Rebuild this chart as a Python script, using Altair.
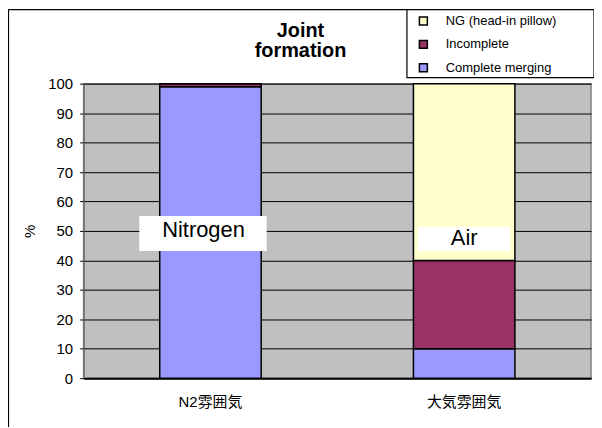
import altair as alt
import pandas as pd

categories = ["N2雰囲気", "大気雰囲気"]
series = ["NG (head-in pillow)", "Incomplete", "Complete merging"]
complete = [99, 10]
incomplete = [1, 30]
ng = [0, 60]
colors = ["#FFFFCC", "#993366", "#9999FF"]
y_ticks = list(range(0, 101, 10))
title_lines = ["Joint", "formation"]

annot_labels = ["Nitrogen", "Air"]
annot_low = [43.2, 43.2]
annot_high = [55.1, 51.4]
annot_text_y = [48.0, 45.3]

FONT = "Liberation Sans, Arial, Noto Sans CJK JP"

rows = []
for i, c in enumerate(categories):
    for s, vals, o in [(series[2], complete, 0), (series[1], incomplete, 1), (series[0], ng, 2)]:
        rows.append({"cat": c, "series": s, "value": vals[i], "order": o})
df = pd.DataFrame(rows)

ann = pd.DataFrame({"cat": categories, "label": annot_labels, "lo": annot_low,
                    "hi": annot_high, "ty": annot_text_y})

xaxis = alt.Axis(labelAngle=0, ticks=False, labelPadding=16, labelFontSize=15,
                 labelFont=FONT, labelColor="black", domainColor="black",
                 domainWidth=2, grid=False)
xscale = alt.Scale(paddingInner=0.6, paddingOuter=0.3)
yaxis = alt.Axis(values=y_ticks, tickSize=4, tickColor="black", labelPadding=7,
                 labelFontSize=15, labelFont=FONT, labelColor="black", labelOverlap=False,
                 titleFont=FONT, titleFontSize=15, titleFontWeight="normal",
                 titleColor="black", titlePadding=10, domainColor="#606060",
                 gridColor="black", gridWidth=1)
yscale = alt.Scale(domain=[0, 100], nice=False)


def X():
    return alt.X("cat:N", sort=categories, title=None, scale=xscale, axis=xaxis)


def Y(field):
    return alt.Y(field, title="%", scale=yscale, axis=yaxis)


bars = alt.Chart(df).mark_bar(stroke="black", strokeWidth=1.5).encode(
    x=X(),
    y=alt.Y("value:Q", stack="zero", title="%", scale=yscale, axis=yaxis),
    color=alt.Color("series:N", scale=alt.Scale(domain=series, range=colors),
                    legend=alt.Legend(title=None, orient="none", legendX=335, legendY=-69.5,
                                      symbolType="square", symbolSize=64,
                                      symbolStrokeColor="black", symbolStrokeWidth=1.5,
                                      labelFontSize=13, labelFont=FONT, labelColor="black",
                                      labelOffset=16, rowPadding=8.5, padding=0)),
    order=alt.Order("order:Q", sort="ascending"),
)

ann_n = ann[ann.label == "Nitrogen"]
ann_a = ann[ann.label == "Air"]

boxes_n = alt.Chart(ann_n).mark_bar(color="white", width=128, xOffset=-7.5).encode(
    x=X(), y=Y("lo:Q"), y2="hi:Q")
boxes_a = alt.Chart(ann_a).mark_bar(color="white", width=93).encode(
    x=X(), y=Y("lo:Q"), y2="hi:Q")
text_n = alt.Chart(ann_n).mark_text(fontSize=22, font=FONT, color="black",
                                     baseline="alphabetic", xOffset=-7).encode(
    x=X(), y=Y("ty:Q"), text="label:N")
text_a = alt.Chart(ann_a).mark_text(fontSize=22, font=FONT, color="black",
                                     baseline="alphabetic").encode(
    x=X(), y=Y("ty:Q"), text="label:N")

one = pd.DataFrame({"t": [title_lines]})
frame_left = alt.Chart(one).mark_rule(color="black", strokeWidth=1.2).encode(
    x=alt.value(-75.5), y=alt.value(-74.5), y2=alt.value(345))
frame_top = alt.Chart(one).mark_rule(color="black", strokeWidth=1.2).encode(
    x=alt.value(-75.5), x2=alt.value(513), y=alt.value(-74.5))
legend_box = alt.Chart(one).mark_rect(fill="white", stroke="black", strokeWidth=1.2).encode(
    x=alt.value(325), x2=alt.value(513), y=alt.value(-74.5), y2=alt.value(-6))
title_txt = alt.Chart(one).mark_text(fontSize=20, fontWeight="bold", font=FONT, color="black",
                                      align="center", baseline="alphabetic", lineHeight=20).encode(
    x=alt.value(218), y=alt.value(-47), text="t")

chart = alt.layer(frame_left, frame_top, bars, boxes_n, boxes_a, text_n, text_a, legend_box,
                  title_txt).properties(
    width=510, height=296,
    background="white",
    autosize=alt.AutoSizeParams(type="none"),
    padding={"left": 76, "top": 75, "right": 3, "bottom": 49},
).configure_view(fill="#C0C0C0", stroke="#808080", strokeWidth=1.5)

chart.save("out.html", embed_options={"renderer": "svg", "actions": False})
